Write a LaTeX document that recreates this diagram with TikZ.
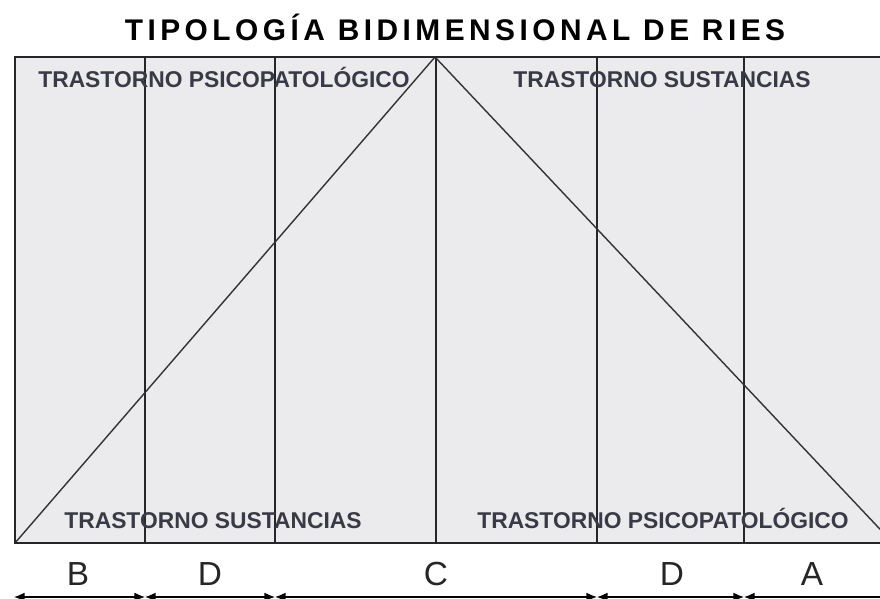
\documentclass[tikz,border=0pt]{standalone}
\usepackage{fontspec}
\setmainfont{Liberation Sans}
\usetikzlibrary{arrows.meta}
\definecolor{panelgray}{HTML}{EBEBEE}
\definecolor{labelgray}{HTML}{3A3A46}

\begin{document}
\begin{tikzpicture}[
    x=0.02cm, y=-0.02cm,
    every node/.style={inner sep=0pt},
    titlebox/.style={font=\bfseries\fontsize{17}{20}\selectfont\addfontfeature{LetterSpace=15}, anchor=base},
    zonelabel/.style={font=\bfseries\fontsize{13}{15}\selectfont, text=labelgray, anchor=base},
    typelabel/.style={font=\fontsize{19}{22}\selectfont, text=black!85},
    divline/.style={line width=1pt, color=black!85},
    diagline/.style={line width=0.8pt, color=black!80},
    spanarr/.style={{Latex[length=6pt, width=5pt]}-{Latex[length=6pt, width=5pt]},
        line width=0.7pt},
]
\useasboundingbox (0,0) rectangle (880,599);

% === Title ===
\node[titlebox] (title) at (455,40) {TIPOLOGÍA BIDIMENSIONAL DE RIES};

% === Panel ===
\coordinate (tl) at (15,57);
\coordinate (br) at (893,543);
\coordinate (apex) at (435,57);
\coordinate (bl) at (15,543);

\begin{scope}
\clip (0,0) rectangle (880,599);
\fill[panelgray] (tl) rectangle (br);

% dividing lines
\foreach \x/\n in {145/v1, 275/v2, 436/v3, 597/v4, 744/v5} {
    \coordinate (\n top) at (\x,57);
    \coordinate (\n bot) at (\x,543);
    \draw[divline] (\n top) -- (\n bot);
}

% the two diagonals
\draw[diagline] (bl) -- (apex) -- (br);

\draw[divline] (tl) rectangle (br);

% === Zone labels ===
\node[zonelabel] (psicotop) at (224,87) {TRASTORNO PSICOPATOLÓGICO};
\node[zonelabel] (sustop) at (662,87) {TRASTORNO SUSTANCIAS};
\node[zonelabel] (susbot) at (213,528) {TRASTORNO SUSTANCIAS};
\node[zonelabel] (psicobot) at (663,528) {TRASTORNO PSICOPATOLÓGICO};

% === Type letters ===
\node[typelabel] (tB) at (78,574) {B};
\node[typelabel] (tD1) at (210,574) {D};
\node[typelabel] (tC) at (436,574) {C};
\node[typelabel] (tD2) at (672,574) {D};
\node[typelabel] (tA) at (812,574) {A};

% span arrows
\coordinate (s0) at (14,597);
\coordinate (s1) at (145,597);
\coordinate (s2) at (275,597);
\coordinate (s3) at (597,597);
\coordinate (s4) at (744,597);
\coordinate (s5) at (893,597);
\foreach \a/\b in {s0/s1, s1/s2, s2/s3, s3/s4, s4/s5} {
    \draw[spanarr] (\a) -- (\b);
}
\end{scope}

\end{tikzpicture}
\end{document}
